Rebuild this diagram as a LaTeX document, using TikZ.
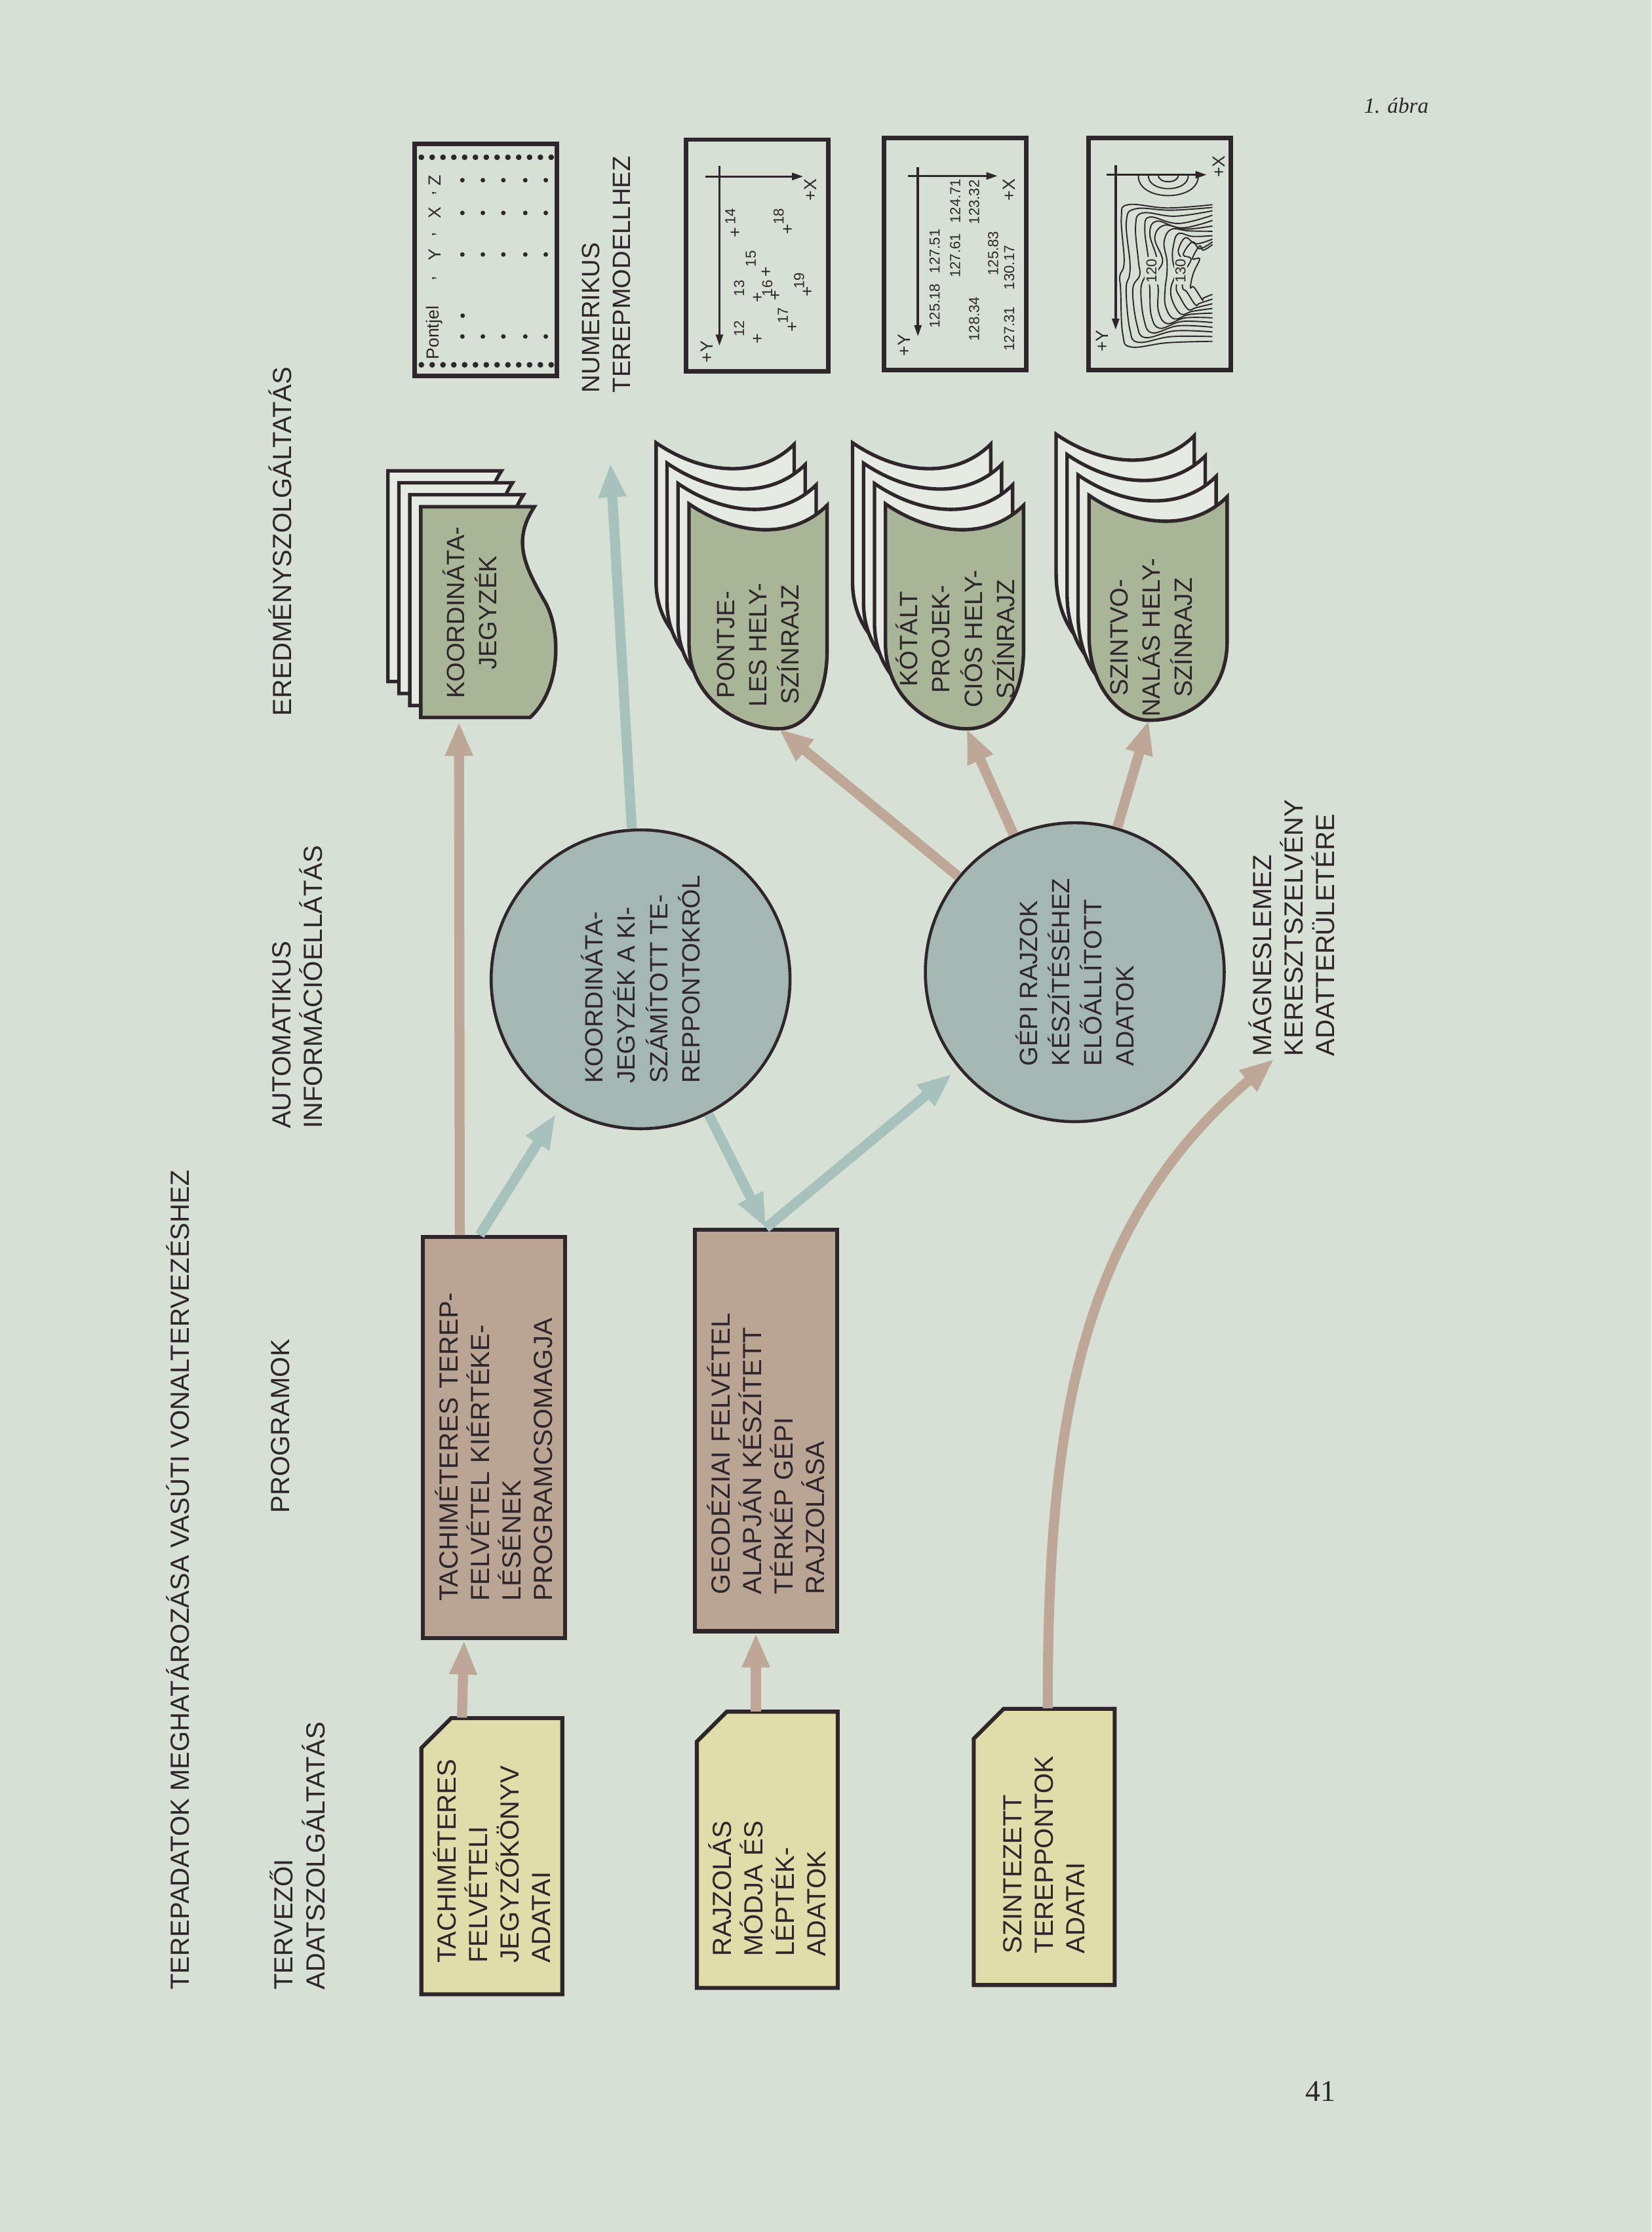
\documentclass[tikz,border=0pt]{standalone}
\usepackage{fontspec}
\setmainfont{Liberation Sans}
\newfontfamily\seriffont{Liberation Serif}
\usetikzlibrary{arrows.meta}

\definecolor{paper}{RGB}{214,224,213}
\definecolor{ink}{RGB}{46,38,42}
\definecolor{cardyellow}{RGB}{225,221,171}
\definecolor{progbrown}{RGB}{186,164,148}
\definecolor{infoteal}{RGB}{165,183,179}
\definecolor{docgreen}{RGB}{168,181,150}
\definecolor{sheet}{RGB}{229,235,226}
\definecolor{arrowbrown}{RGB}{191,167,152}
\definecolor{arrowteal}{RGB}{167,193,189}

\newcommand{\boxfont}{\fontsize{10.5}{12.6}\selectfont}
\newcommand{\circlefont}{\fontsize{10}{12.9}\selectfont}
\newcommand{\mapfont}{\fontsize{7}{8}\selectfont}
\newcommand{\numfont}{\fontsize{5.8}{7}\selectfont}

\tikzset{
  tipat/.initial=34,
  % punched card with cut corner
  card/.pic={
    \filldraw[draw=ink, line width=1.6pt, fill=cardyellow]
      (-97,-49.5) -- (-97,49.5) -- (76,49.5) -- (97,28.5) -- (97,-49.5) -- cycle;
  },
  % stack of listing sheets, wavy lower edge
  liststack/.pic={
    \foreach \sh/\pg in {3/sheet,2/sheet,1/sheet,0/docgreen}
      \filldraw[draw=ink, line width=1.4pt, fill=\pg, shift={({8.4*\sh},{7.7*\sh})}]
        (0,0) -- (0,76.8) -- (148,76.8) -- (148,-3)
        .. controls (125,12) and (108,5) .. (82,-10)
        .. controls (62,-22) and (20,-22) .. (0,0) -- cycle;
    \coordinate (-in) at (-3,50);
  },
  % stack of plotted sheets, rounded end
  sheetstack/.pic={
    \pgfmathsetmacro\tp{\pgfkeysvalueof{/tikz/tipat}}
    \foreach \sh/\pg in {3/sheet,2/sheet,1/sheet,0/docgreen}
      \filldraw[draw=ink, line width=1.4pt, fill=\pg, shift={({14.3*\sh},{7.7*\sh})}]
        (60,97) -- (158,97) .. controls (136,65) and (132,25) .. (157,0)
        -- (55,0) .. controls (25,0) and (0,{0.35*\tp}) .. (0,\tp)
        .. controls (0,{\tp+0.45*(97-\tp)}) and (22,97) .. (60,97) -- cycle;
    \coordinate (-tip) at (0,\tp);
  }
}

\begin{document}
\begin{tikzpicture}[x=0.02cm, y=0.02cm, rotate=90, transform shape,
    every node/.append style={text=ink},
    hdr/.style={font=\boxfont, align=left, inner sep=1pt},
    cardtext/.style={font=\boxfont, align=left, text width=3.0cm, minimum width=3.88cm, minimum height=1.98cm, inner sep=0pt},
    prog/.style={draw=ink, line width=1.6pt, fill=progbrown, font=\boxfont, align=left, text width=4.6cm, minimum width=5.64cm, minimum height=2cm, inner sep=0pt},
    info/.style={circle, draw=ink, line width=1.2pt, fill=infoteal, minimum size=4.2cm, font=\circlefont, align=left, inner sep=0pt},
    doctext/.style={font=\circlefont, align=center, inner sep=0pt},
    mapbox/.style={draw=ink, line width=1.8pt, minimum width=3.26cm, minimum height=2cm, inner sep=0pt},
    mapaxis/.style={ink, line width=0.9pt, -{Triangle[length=4.5pt, width=2.8pt]}},
    maplbl/.style={font=\mapfont, inner sep=0pt},
    numlbl/.style={font=\numfont, inner sep=0pt},
    contour/.style={ink, line width=0.5pt},
    brownarrow/.style={arrowbrown, line width=4pt, -{Triangle[length=0.48cm, width=0.36cm]}},
    tealarrow/.style={arrowteal, line width=4pt, -{Triangle[length=0.48cm, width=0.36cm]}}
  ]
\fill[paper] (0,0) rectangle (1568,1160);

% headings
\node[hdr, anchor=west] (title) at (168,1035) {TEREPADATOK MEGHATÁROZÁSA VASÚTI VONALTERVEZÉSHEZ};
\node[hdr, anchor=west] (hdata) at (168,951) {TERVEZŐI\\ADATSZOLGÁLTATÁS};
\node[hdr, anchor=west] (hprog) at (503,963) {PROGRAMOK};
\node[hdr, anchor=west] (hinfo) at (773,951) {AUTOMATIKUS\\INFORMÁCIÓELLÁTÁS};
\node[hdr, anchor=west] (hresult) at (1063,963) {EREDMÉNYSZOLGÁLTATÁS};
\node[hdr, anchor=west, font=\fontsize{10}{12.4}\selectfont] (numerikus) at (1290,734) {NUMERIKUS\\TEREPMODELLHEZ};
\node[hdr, anchor=west] (magnes) at (824,252.5) {MÁGNESLEMEZ\\KERESZTSZELVÉNY\\ADATTERÜLETÉRE};
\node[font=\seriffont\itshape\fontsize{8.7}{10}\selectfont, rotate=-90, inner sep=0pt] (abra) at (1493.6,179.2) {1. ábra};
\node[font=\seriffont\fontsize{12}{14}\selectfont, rotate=-90, inner sep=0pt] (pageno) at (99,232.5) {41};

% input data
\pic (tcard) at (264,814.5) {card};
\node[cardtext] (tdata) at (264,814.5) {TACHIMÉTERES\\FELVÉTELI\\JEGYZŐKÖNYV\\ADATAI};
\pic (rcard) at (268.5,621) {card};
\node[cardtext] (rdata) at (268.5,621) {RAJZOLÁS\\MÓDJA ÉS\\LÉPTÉK-\\ADATOK};
\pic (scard) at (270.5,426.5) {card};
\node[cardtext] (sdata) at (270.5,426.5) {SZINTEZETT\\TEREPPONTOK\\ADATAI};

% programs
\node[prog] (tprog) at (558,813) {TACHIMÉTERES TEREP-\\FELVÉTEL KIÉRTÉKE-\\LÉSÉNEK\\PROGRAMCSOMAGJA};
\node[prog] (gprog) at (563,622) {GEODÉZIAI FELVÉTEL\\ALAPJÁN KÉSZÍTETT\\TÉRKÉP GÉPI\\RAJZOLÁSA};

% information
\node[info] (coordcalc) at (880,710) {KOORDINÁTA-\\JEGYZÉK A KI-\\SZÁMÍTOTT TE-\\REPPONTOKRÓL};
\node[info] (plotdata) at (885,405) {GÉPI RAJZOK\\KÉSZÍTÉSÉHEZ\\ELŐÁLLÍTOTT\\ADATOK};

% results
\pic (kj) at (1064,787.6) {liststack};
\node[doctext] (kjtext) at (1137.5,829.9) {KOORDINÁTA-\\JEGYZÉK};
\pic (pj) at (1056,579) {sheetstack};
\node[doctext] (pjtext) at (1115,627.5) {PONTJE-\\LES HELY-\\SZÍNRAJZ};
\pic[tipat=40] (kt) at (1056,441) {sheetstack};
\node[doctext] (kttext) at (1119,489) {KÓTÁLT\\PROJEK-\\CIÓS HELY-\\SZÍNRAJZ};
\pic[tipat=55] (sz) at (1062,298) {sheetstack};
\node[doctext] (sztext) at (1120,351.3) {SZINTVO-\\NALÁS HELY-\\SZÍNRAJZ};

% printout
\node[mapbox] (pontjel) at (1385.3,818.85) {};
\foreach \nn in {0,...,12} {
  \fill[ink] (1311.7,{864-7.6*\nn}) circle (2);
  \fill[ink] (1457.5,{864-7.6*\nn}) circle (2);
}
\foreach \ux in {1331.6,1389.2,1418.4,1441.4}
  \foreach \vv in {835.2,820.8,806.4,791,776.6}
    \fill[ink] (\ux,\vv) circle (1.6);
\fill[ink] (1346.2,835) circle (1.6);
\node[maplbl, anchor=west] (pjhead) at (1315,854.7) {Pontjel};
\foreach \ux/\tx [count=\nm] in {1372.3/{,},1389.2/Y,1403.2/{,},1418.4/X,1432.2/{,},1441.4/Z}
  \node[maplbl] (pjcol\nm) at (\ux,854.7) {\tx};

% point map
\node[mapbox] (ptmap) at (1388.4,628) {};
\draw[mapaxis] (1444,664.5) -- (1444,595.7);
\draw[mapaxis] (1451.3,654.6) -- (1325,654.6);
\node[maplbl] (ptY) at (1320.9,663.5) {+Y};
\node[maplbl] (ptX) at (1434.5,590.5) {+X};
\foreach \pu/\pv/\lu/\lv/\nm in {1330.1/627.5/1337/640.8/12, 1359.2/627.5/1365.4/640.8/13,
    1404.5/642.9/1416/647/14, 1376.9/621.3/1386.1/632.6/15, 1360.5/614.7/1365.4/621/16,
    1338.5/602.8/1346.2/610/17, 1406.8/605.9/1416/613/18, 1363/592.5/1370.7/598.6/19} {
  \node[maplbl] (pt\nm) at (\pu,\pv) {+};
  \node[numlbl] (ptn\nm) at (\lu,\lv) {\nm};
}

% coordinate map
\node[mapbox] (coordmap) at (1389.55,489.05) {};
\draw[mapaxis] (1444.4,522) -- (1444.4,459.2);
\draw[mapaxis] (1450.6,515.2) -- (1331.6,515.2);
\node[maplbl] (cmY) at (1325.5,525) {+Y};
\node[maplbl] (cmX) at (1434.5,451) {+X};
\foreach \ux/\vv/\tx [count=\nm] in {1353.1/503.4/125.18, 1391.5/503.4/127.51, 1388.4/489/127.61,
    1426.8/489/124.71, 1343.9/475.7/128.34, 1426/475.7/123.32, 1389.9/462.3/125.83,
    1337/451/127.31, 1380/451/130.17}
  \node[numlbl] (cm\nm) at (\ux,\vv) {\tx};

% contour map
\node[mapbox] (contourmap) at (1389.55,345.4) {};
\draw[mapaxis] (1445.2,382.8) -- (1445.2,312.3);
\draw[mapaxis] (1452.1,376.3) -- (1336.2,376.3);
\node[maplbl] (cnY) at (1328.5,385.6) {+Y};
\node[maplbl] (cnX) at (1451,304) {+X};
\begin{scope}[shift={(1445.2,376.3)}]
  \foreach \sh in {0,...,10} {
    \pgfmathsetmacro\vt{-5-5*\sh}
    \pgfmathsetmacro\ur{-22-2.9*\sh}
    \pgfmathsetmacro\ul{-120+3.3*\sh}
    \pgfmathsetmacro\um{(\ur+\ul)/2}
    \draw[contour] plot[smooth, tension=0.65] coordinates {
      ({\ur+1+1.5*sin(40*\sh)},-68) ({\ur-2+2*sin(70*\sh+20)},{(\vt-68)/2})
      ({\ur+1},{\vt-4}) ({\ur-8},{\vt+1+1.5*sin(90*\sh)})
      ({\um+10},{\vt-2+2*sin(60*\sh+30)}) ({\um},{\vt+2*cos(80*\sh)})
      ({\um-10},{\vt+1.5+1.5*sin(50*\sh)}) ({\ul+8},\vt) ({\ul-1},{\vt-6})
      ({\ul+2+2*sin(30*\sh)},{(\vt-68)/2}) ({\ul+3},-68)};
  }
  \foreach \rr in {5,10,15}
    \draw[contour] (0,{-37+1.4*\rr}) .. controls ({-1.3*\rr},{-37+1.5*\rr}) and ({-1.3*\rr},{-37-1.5*\rr}) .. (0,{-37-1.4*\rr});
  \node[numlbl, fill=paper, inner sep=0.6pt] (c120) at (-67.5,-25.2) {120};
  \node[numlbl, fill=paper, inner sep=0.6pt] (c130) at (-67.5,-45.5) {130};
\end{scope}

% connectors
\draw[brownarrow] ([yshift=0.42cm]tdata.east) -- ([yshift=0.42cm]tprog.west);
\draw[brownarrow] ([yshift=0.16cm]rdata.east) -- ([yshift=0.14cm]gprog.west);
\draw[brownarrow] ([yshift=-0.05cm]sdata.east) .. controls +(186,0) and +(-120,142) .. ([yshift=0.25cm]magnes.west);
\draw[brownarrow] ([yshift=0.48cm]tprog.east) -- (kj-in);
\draw[tealarrow, shorten >=0.12cm] ([yshift=0.2cm]tprog.east) -- (coordcalc);
\draw[tealarrow] (coordcalc) -- (gprog.east);
\draw[tealarrow, shorten >=0.12cm] (gprog.east) -- (plotdata);
\draw[tealarrow, shorten >=0.95cm] (coordcalc) -- (numerikus.west);
\draw[brownarrow] (plotdata) -- (pj-tip);
\draw[brownarrow] (plotdata) -- (kt-tip);
\draw[brownarrow] (plotdata) -- (sz-tip);

\pgfresetboundingbox
\useasboundingbox (0,0) rectangle (1568,1160);
\end{tikzpicture}
\end{document}
